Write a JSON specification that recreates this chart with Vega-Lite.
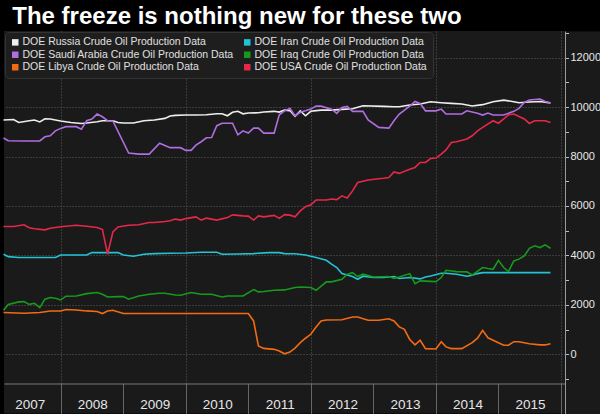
{
"$schema": "https://vega.github.io/schema/vega-lite/v6.json",
"width": 561, "height": 382.5,
"padding": {"left": 0, "top": 4, "right": 0, "bottom": 0},
"background": "#000000",
"title": {"text": "The freeze is nothing new for these two", "anchor": "start", "font": "Liberation Sans", "fontSize": 24, "fontWeight": "bold", "color": "#ffffff", "offset": -1.9, "dx": 12},
"data": {"values": [
{"s":"Russia","d":"2007-02","v":9480},{"s":"Russia","d":"2007-04","v":9500},{"s":"Russia","d":"2007-05","v":9380},{"s":"Russia","d":"2007-07","v":9450},{"s":"Russia","d":"2007-08","v":9480},{"s":"Russia","d":"2007-09","v":9400},{"s":"Russia","d":"2007-10","v":9530},{"s":"Russia","d":"2007-11","v":9520},{"s":"Russia","d":"2007-12","v":9480},{"s":"Russia","d":"2008-01","v":9440},{"s":"Russia","d":"2008-03","v":9380},{"s":"Russia","d":"2008-05","v":9340},{"s":"Russia","d":"2008-06","v":9355},{"s":"Russia","d":"2008-08","v":9410},{"s":"Russia","d":"2008-09","v":9450},{"s":"Russia","d":"2008-11","v":9450},{"s":"Russia","d":"2008-12","v":9380},{"s":"Russia","d":"2009-01","v":9355},{"s":"Russia","d":"2009-03","v":9355},{"s":"Russia","d":"2009-05","v":9450},{"s":"Russia","d":"2009-07","v":9480},{"s":"Russia","d":"2009-09","v":9545},{"s":"Russia","d":"2009-10","v":9640},{"s":"Russia","d":"2009-11","v":9665},{"s":"Russia","d":"2010-01","v":9680},{"s":"Russia","d":"2010-03","v":9680},{"s":"Russia","d":"2010-05","v":9690},{"s":"Russia","d":"2010-07","v":9730},{"s":"Russia","d":"2010-08","v":9730},{"s":"Russia","d":"2010-09","v":9650},{"s":"Russia","d":"2010-10","v":9790},{"s":"Russia","d":"2010-11","v":9830},{"s":"Russia","d":"2010-12","v":9730},{"s":"Russia","d":"2011-01","v":9760},{"s":"Russia","d":"2011-03","v":9770},{"s":"Russia","d":"2011-04","v":9800},{"s":"Russia","d":"2011-06","v":9830},{"s":"Russia","d":"2011-07","v":9800},{"s":"Russia","d":"2011-08","v":9880},{"s":"Russia","d":"2011-09","v":9860},{"s":"Russia","d":"2011-10","v":9625},{"s":"Russia","d":"2011-11","v":9850},{"s":"Russia","d":"2011-12","v":9650},{"s":"Russia","d":"2012-01","v":9830},{"s":"Russia","d":"2012-02","v":9860},{"s":"Russia","d":"2012-03","v":9880},{"s":"Russia","d":"2012-05","v":9880},{"s":"Russia","d":"2012-07","v":9910},{"s":"Russia","d":"2012-09","v":9935},{"s":"Russia","d":"2012-11","v":10055},{"s":"Russia","d":"2013-03","v":10030},{"s":"Russia","d":"2013-05","v":10015},{"s":"Russia","d":"2013-06","v":10015},{"s":"Russia","d":"2013-08","v":10085},{"s":"Russia","d":"2013-10","v":10125},{"s":"Russia","d":"2013-12","v":10220},{"s":"Russia","d":"2014-02","v":10180},{"s":"Russia","d":"2014-04","v":10150},{"s":"Russia","d":"2014-06","v":10125},{"s":"Russia","d":"2014-08","v":10045},{"s":"Russia","d":"2014-10","v":10100},{"s":"Russia","d":"2014-12","v":10220},{"s":"Russia","d":"2015-02","v":10285},{"s":"Russia","d":"2015-04","v":10220},{"s":"Russia","d":"2015-05","v":10180},{"s":"Russia","d":"2015-07","v":10205},{"s":"Russia","d":"2015-09","v":10230},{"s":"Russia","d":"2015-11","v":10165},
{"s":"Saudi Arabia","d":"2007-02","v":8750},{"s":"Saudi Arabia","d":"2007-03","v":8640},{"s":"Saudi Arabia","d":"2007-06","v":8630},{"s":"Saudi Arabia","d":"2007-09","v":8630},{"s":"Saudi Arabia","d":"2007-10","v":8800},{"s":"Saudi Arabia","d":"2007-11","v":8840},{"s":"Saudi Arabia","d":"2007-12","v":9040},{"s":"Saudi Arabia","d":"2008-01","v":9140},{"s":"Saudi Arabia","d":"2008-02","v":9210},{"s":"Saudi Arabia","d":"2008-04","v":9210},{"s":"Saudi Arabia","d":"2008-05","v":9110},{"s":"Saudi Arabia","d":"2008-06","v":9450},{"s":"Saudi Arabia","d":"2008-07","v":9520},{"s":"Saudi Arabia","d":"2008-08","v":9720},{"s":"Saudi Arabia","d":"2008-09","v":9610},{"s":"Saudi Arabia","d":"2008-10","v":9450},{"s":"Saudi Arabia","d":"2008-11","v":9440},{"s":"Saudi Arabia","d":"2009-02","v":8140},{"s":"Saudi Arabia","d":"2009-04","v":8100},{"s":"Saudi Arabia","d":"2009-06","v":8100},{"s":"Saudi Arabia","d":"2009-08","v":8540},{"s":"Saudi Arabia","d":"2009-10","v":8360},{"s":"Saudi Arabia","d":"2009-12","v":8360},{"s":"Saudi Arabia","d":"2010-01","v":8250},{"s":"Saudi Arabia","d":"2010-02","v":8250},{"s":"Saudi Arabia","d":"2010-03","v":8460},{"s":"Saudi Arabia","d":"2010-04","v":8600},{"s":"Saudi Arabia","d":"2010-05","v":8760},{"s":"Saudi Arabia","d":"2010-06","v":8770},{"s":"Saudi Arabia","d":"2010-07","v":9250},{"s":"Saudi Arabia","d":"2010-08","v":9350},{"s":"Saudi Arabia","d":"2010-10","v":9350},{"s":"Saudi Arabia","d":"2010-11","v":8880},{"s":"Saudi Arabia","d":"2010-12","v":9040},{"s":"Saudi Arabia","d":"2011-01","v":8950},{"s":"Saudi Arabia","d":"2011-02","v":9150},{"s":"Saudi Arabia","d":"2011-03","v":9150},{"s":"Saudi Arabia","d":"2011-04","v":8950},{"s":"Saudi Arabia","d":"2011-06","v":8950},{"s":"Saudi Arabia","d":"2011-07","v":9690},{"s":"Saudi Arabia","d":"2011-08","v":9850},{"s":"Saudi Arabia","d":"2011-09","v":9950},{"s":"Saudi Arabia","d":"2011-10","v":9650},{"s":"Saudi Arabia","d":"2011-11","v":9790},{"s":"Saudi Arabia","d":"2011-12","v":9850},{"s":"Saudi Arabia","d":"2012-01","v":9920},{"s":"Saudi Arabia","d":"2012-02","v":10040},{"s":"Saudi Arabia","d":"2012-03","v":10040},{"s":"Saudi Arabia","d":"2012-05","v":9920},{"s":"Saudi Arabia","d":"2012-06","v":9750},{"s":"Saudi Arabia","d":"2012-07","v":9990},{"s":"Saudi Arabia","d":"2012-08","v":10030},{"s":"Saudi Arabia","d":"2012-09","v":9830},{"s":"Saudi Arabia","d":"2012-11","v":9830},{"s":"Saudi Arabia","d":"2012-12","v":9480},{"s":"Saudi Arabia","d":"2013-02","v":9180},{"s":"Saudi Arabia","d":"2013-04","v":9150},{"s":"Saudi Arabia","d":"2013-05","v":9450},{"s":"Saudi Arabia","d":"2013-06","v":9720},{"s":"Saudi Arabia","d":"2013-08","v":10040},{"s":"Saudi Arabia","d":"2013-09","v":10230},{"s":"Saudi Arabia","d":"2013-10","v":10150},{"s":"Saudi Arabia","d":"2013-11","v":9850},{"s":"Saudi Arabia","d":"2014-01","v":9850},{"s":"Saudi Arabia","d":"2014-02","v":9920},{"s":"Saudi Arabia","d":"2014-03","v":9720},{"s":"Saudi Arabia","d":"2014-06","v":9720},{"s":"Saudi Arabia","d":"2014-07","v":9850},{"s":"Saudi Arabia","d":"2014-09","v":9750},{"s":"Saudi Arabia","d":"2014-10","v":9680},{"s":"Saudi Arabia","d":"2014-11","v":9760},{"s":"Saudi Arabia","d":"2014-12","v":9680},{"s":"Saudi Arabia","d":"2015-02","v":9680},{"s":"Saudi Arabia","d":"2015-04","v":9830},{"s":"Saudi Arabia","d":"2015-05","v":9950},{"s":"Saudi Arabia","d":"2015-06","v":10190},{"s":"Saudi Arabia","d":"2015-07","v":10290},{"s":"Saudi Arabia","d":"2015-09","v":10330},{"s":"Saudi Arabia","d":"2015-10","v":10230},{"s":"Saudi Arabia","d":"2015-11","v":10180},
{"s":"Libya","d":"2007-02","v":1690},{"s":"Libya","d":"2007-06","v":1660},{"s":"Libya","d":"2007-09","v":1690},{"s":"Libya","d":"2007-11","v":1750},{"s":"Libya","d":"2008-01","v":1750},{"s":"Libya","d":"2008-02","v":1810},{"s":"Libya","d":"2008-04","v":1795},{"s":"Libya","d":"2008-06","v":1755},{"s":"Libya","d":"2008-08","v":1730},{"s":"Libya","d":"2008-09","v":1650},{"s":"Libya","d":"2008-10","v":1755},{"s":"Libya","d":"2008-11","v":1780},{"s":"Libya","d":"2009-01","v":1650},{"s":"Libya","d":"2011-01","v":1650},{"s":"Libya","d":"2011-02","v":1350},{"s":"Libya","d":"2011-03","v":340},{"s":"Libya","d":"2011-04","v":240},{"s":"Libya","d":"2011-06","v":200},{"s":"Libya","d":"2011-07","v":130},{"s":"Libya","d":"2011-08","v":20},{"s":"Libya","d":"2011-09","v":90},{"s":"Libya","d":"2011-10","v":250},{"s":"Libya","d":"2011-11","v":470},{"s":"Libya","d":"2011-12","v":650},{"s":"Libya","d":"2012-01","v":810},{"s":"Libya","d":"2012-02","v":1100},{"s":"Libya","d":"2012-03","v":1350},{"s":"Libya","d":"2012-04","v":1390},{"s":"Libya","d":"2012-07","v":1400},{"s":"Libya","d":"2012-09","v":1510},{"s":"Libya","d":"2012-10","v":1510},{"s":"Libya","d":"2012-12","v":1380},{"s":"Libya","d":"2013-02","v":1380},{"s":"Libya","d":"2013-04","v":1440},{"s":"Libya","d":"2013-05","v":1350},{"s":"Libya","d":"2013-06","v":1110},{"s":"Libya","d":"2013-07","v":1010},{"s":"Libya","d":"2013-08","v":600},{"s":"Libya","d":"2013-09","v":380},{"s":"Libya","d":"2013-10","v":570},{"s":"Libya","d":"2013-11","v":230},{"s":"Libya","d":"2014-01","v":215},{"s":"Libya","d":"2014-02","v":510},{"s":"Libya","d":"2014-03","v":300},{"s":"Libya","d":"2014-04","v":230},{"s":"Libya","d":"2014-06","v":230},{"s":"Libya","d":"2014-08","v":470},{"s":"Libya","d":"2014-09","v":650},{"s":"Libya","d":"2014-10","v":970},{"s":"Libya","d":"2014-11","v":670},{"s":"Libya","d":"2015-01","v":470},{"s":"Libya","d":"2015-02","v":365},{"s":"Libya","d":"2015-03","v":365},{"s":"Libya","d":"2015-04","v":510},{"s":"Libya","d":"2015-05","v":510},{"s":"Libya","d":"2015-07","v":430},{"s":"Libya","d":"2015-09","v":380},{"s":"Libya","d":"2015-10","v":380},{"s":"Libya","d":"2015-11","v":430},
{"s":"Iran","d":"2007-02","v":4050},{"s":"Iran","d":"2007-03","v":3950},{"s":"Iran","d":"2007-05","v":3915},{"s":"Iran","d":"2007-12","v":3915},{"s":"Iran","d":"2008-01","v":4020},{"s":"Iran","d":"2008-06","v":4020},{"s":"Iran","d":"2008-07","v":4115},{"s":"Iran","d":"2008-12","v":4115},{"s":"Iran","d":"2009-01","v":4020},{"s":"Iran","d":"2009-03","v":3970},{"s":"Iran","d":"2009-05","v":4050},{"s":"Iran","d":"2009-07","v":4075},{"s":"Iran","d":"2009-10","v":4090},{"s":"Iran","d":"2010-01","v":4100},{"s":"Iran","d":"2010-04","v":4130},{"s":"Iran","d":"2010-07","v":4130},{"s":"Iran","d":"2010-08","v":4050},{"s":"Iran","d":"2010-11","v":4060},{"s":"Iran","d":"2011-02","v":4075},{"s":"Iran","d":"2011-05","v":4115},{"s":"Iran","d":"2011-07","v":4115},{"s":"Iran","d":"2011-08","v":4075},{"s":"Iran","d":"2011-10","v":4070},{"s":"Iran","d":"2011-12","v":4020},{"s":"Iran","d":"2012-02","v":3915},{"s":"Iran","d":"2012-04","v":3805},{"s":"Iran","d":"2012-05","v":3645},{"s":"Iran","d":"2012-06","v":3510},{"s":"Iran","d":"2012-07","v":3265},{"s":"Iran","d":"2012-09","v":3145},{"s":"Iran","d":"2012-10","v":3035},{"s":"Iran","d":"2012-11","v":3160},{"s":"Iran","d":"2013-01","v":3105},{"s":"Iran","d":"2013-03","v":3105},{"s":"Iran","d":"2013-05","v":3145},{"s":"Iran","d":"2013-06","v":3065},{"s":"Iran","d":"2013-08","v":3105},{"s":"Iran","d":"2013-10","v":3050},{"s":"Iran","d":"2013-11","v":3130},{"s":"Iran","d":"2013-12","v":3170},{"s":"Iran","d":"2014-02","v":3280},{"s":"Iran","d":"2014-03","v":3280},{"s":"Iran","d":"2014-05","v":3240},{"s":"Iran","d":"2014-07","v":3160},{"s":"Iran","d":"2014-08","v":3200},{"s":"Iran","d":"2014-09","v":3265},{"s":"Iran","d":"2014-10","v":3305},{"s":"Iran","d":"2015-03","v":3305},{"s":"Iran","d":"2015-11","v":3305},
{"s":"Iraq","d":"2007-02","v":1780},{"s":"Iraq","d":"2007-03","v":2020},{"s":"Iraq","d":"2007-05","v":2120},{"s":"Iraq","d":"2007-06","v":2130},{"s":"Iraq","d":"2007-07","v":2020},{"s":"Iraq","d":"2007-08","v":2065},{"s":"Iraq","d":"2007-09","v":1890},{"s":"Iraq","d":"2007-10","v":2230},{"s":"Iraq","d":"2007-11","v":2295},{"s":"Iraq","d":"2007-12","v":2270},{"s":"Iraq","d":"2008-01","v":2200},{"s":"Iraq","d":"2008-02","v":2350},{"s":"Iraq","d":"2008-04","v":2360},{"s":"Iraq","d":"2008-06","v":2455},{"s":"Iraq","d":"2008-08","v":2500},{"s":"Iraq","d":"2008-09","v":2430},{"s":"Iraq","d":"2008-10","v":2320},{"s":"Iraq","d":"2008-12","v":2335},{"s":"Iraq","d":"2009-01","v":2335},{"s":"Iraq","d":"2009-02","v":2230},{"s":"Iraq","d":"2009-04","v":2360},{"s":"Iraq","d":"2009-06","v":2430},{"s":"Iraq","d":"2009-08","v":2470},{"s":"Iraq","d":"2009-09","v":2470},{"s":"Iraq","d":"2009-11","v":2400},{"s":"Iraq","d":"2009-12","v":2390},{"s":"Iraq","d":"2010-02","v":2500},{"s":"Iraq","d":"2010-04","v":2430},{"s":"Iraq","d":"2010-06","v":2430},{"s":"Iraq","d":"2010-08","v":2320},{"s":"Iraq","d":"2010-09","v":2360},{"s":"Iraq","d":"2010-12","v":2360},{"s":"Iraq","d":"2011-02","v":2620},{"s":"Iraq","d":"2011-03","v":2525},{"s":"Iraq","d":"2011-04","v":2540},{"s":"Iraq","d":"2011-06","v":2590},{"s":"Iraq","d":"2011-08","v":2605},{"s":"Iraq","d":"2011-10","v":2700},{"s":"Iraq","d":"2011-11","v":2725},{"s":"Iraq","d":"2012-01","v":2700},{"s":"Iraq","d":"2012-02","v":2590},{"s":"Iraq","d":"2012-04","v":2930},{"s":"Iraq","d":"2012-05","v":2930},{"s":"Iraq","d":"2012-07","v":3035},{"s":"Iraq","d":"2012-08","v":3240},{"s":"Iraq","d":"2012-09","v":3305},{"s":"Iraq","d":"2012-10","v":3145},{"s":"Iraq","d":"2012-11","v":3240},{"s":"Iraq","d":"2013-01","v":3130},{"s":"Iraq","d":"2013-04","v":3145},{"s":"Iraq","d":"2013-05","v":3075},{"s":"Iraq","d":"2013-06","v":3130},{"s":"Iraq","d":"2013-08","v":3265},{"s":"Iraq","d":"2013-09","v":2860},{"s":"Iraq","d":"2013-10","v":2970},{"s":"Iraq","d":"2014-01","v":2940},{"s":"Iraq","d":"2014-02","v":3105},{"s":"Iraq","d":"2014-03","v":3400},{"s":"Iraq","d":"2014-05","v":3345},{"s":"Iraq","d":"2014-07","v":3335},{"s":"Iraq","d":"2014-08","v":3210},{"s":"Iraq","d":"2014-10","v":3510},{"s":"Iraq","d":"2014-11","v":3470},{"s":"Iraq","d":"2014-12","v":3440},{"s":"Iraq","d":"2015-01","v":3800},{"s":"Iraq","d":"2015-02","v":3510},{"s":"Iraq","d":"2015-03","v":3350},{"s":"Iraq","d":"2015-04","v":3780},{"s":"Iraq","d":"2015-05","v":3850},{"s":"Iraq","d":"2015-06","v":3980},{"s":"Iraq","d":"2015-07","v":4290},{"s":"Iraq","d":"2015-08","v":4390},{"s":"Iraq","d":"2015-09","v":4320},{"s":"Iraq","d":"2015-10","v":4430},{"s":"Iraq","d":"2015-11","v":4290},
{"s":"USA","d":"2007-02","v":5170},{"s":"USA","d":"2007-04","v":5170},{"s":"USA","d":"2007-06","v":5240},{"s":"USA","d":"2007-07","v":5120},{"s":"USA","d":"2007-08","v":5080},{"s":"USA","d":"2007-10","v":5035},{"s":"USA","d":"2007-11","v":5100},{"s":"USA","d":"2008-01","v":5160},{"s":"USA","d":"2008-04","v":5220},{"s":"USA","d":"2008-06","v":5180},{"s":"USA","d":"2008-08","v":5130},{"s":"USA","d":"2008-09","v":5050},{"s":"USA","d":"2008-10","v":4050},{"s":"USA","d":"2008-11","v":4950},{"s":"USA","d":"2008-12","v":5150},{"s":"USA","d":"2009-02","v":5220},{"s":"USA","d":"2009-04","v":5240},{"s":"USA","d":"2009-06","v":5330},{"s":"USA","d":"2009-07","v":5330},{"s":"USA","d":"2009-09","v":5370},{"s":"USA","d":"2009-10","v":5400},{"s":"USA","d":"2009-11","v":5470},{"s":"USA","d":"2009-12","v":5430},{"s":"USA","d":"2010-01","v":5490},{"s":"USA","d":"2010-03","v":5560},{"s":"USA","d":"2010-04","v":5430},{"s":"USA","d":"2010-05","v":5510},{"s":"USA","d":"2010-07","v":5430},{"s":"USA","d":"2010-09","v":5530},{"s":"USA","d":"2010-10","v":5640},{"s":"USA","d":"2010-12","v":5600},{"s":"USA","d":"2011-01","v":5590},{"s":"USA","d":"2011-02","v":5430},{"s":"USA","d":"2011-03","v":5600},{"s":"USA","d":"2011-04","v":5560},{"s":"USA","d":"2011-06","v":5620},{"s":"USA","d":"2011-07","v":5500},{"s":"USA","d":"2011-08","v":5650},{"s":"USA","d":"2011-09","v":5630},{"s":"USA","d":"2011-10","v":5560},{"s":"USA","d":"2011-11","v":5800},{"s":"USA","d":"2011-12","v":5970},{"s":"USA","d":"2012-01","v":6050},{"s":"USA","d":"2012-02","v":6240},{"s":"USA","d":"2012-04","v":6240},{"s":"USA","d":"2012-05","v":6280},{"s":"USA","d":"2012-06","v":6260},{"s":"USA","d":"2012-07","v":6410},{"s":"USA","d":"2012-08","v":6320},{"s":"USA","d":"2012-09","v":6610},{"s":"USA","d":"2012-10","v":6950},{"s":"USA","d":"2012-12","v":7050},{"s":"USA","d":"2013-02","v":7100},{"s":"USA","d":"2013-03","v":7120},{"s":"USA","d":"2013-04","v":7150},{"s":"USA","d":"2013-05","v":7380},{"s":"USA","d":"2013-06","v":7320},{"s":"USA","d":"2013-08","v":7490},{"s":"USA","d":"2013-09","v":7560},{"s":"USA","d":"2013-10","v":7760},{"s":"USA","d":"2013-11","v":7760},{"s":"USA","d":"2013-12","v":7920},{"s":"USA","d":"2014-01","v":7940},{"s":"USA","d":"2014-02","v":8100},{"s":"USA","d":"2014-03","v":8270},{"s":"USA","d":"2014-04","v":8570},{"s":"USA","d":"2014-05","v":8600},{"s":"USA","d":"2014-07","v":8710},{"s":"USA","d":"2014-08","v":8840},{"s":"USA","d":"2014-09","v":9040},{"s":"USA","d":"2014-10","v":9180},{"s":"USA","d":"2014-12","v":9450},{"s":"USA","d":"2015-01","v":9350},{"s":"USA","d":"2015-02","v":9520},{"s":"USA","d":"2015-03","v":9690},{"s":"USA","d":"2015-04","v":9720},{"s":"USA","d":"2015-06","v":9520},{"s":"USA","d":"2015-07","v":9340},{"s":"USA","d":"2015-08","v":9450},{"s":"USA","d":"2015-10","v":9450},{"s":"USA","d":"2015-11","v":9380}
]},
"encoding": {
  "x": {"field": "d", "type": "temporal",
    "scale": {"domain": [{"year": 2007, "month": 2, "date": 4, "utc": true}, {"year": 2016, "month": 1, "date": 25, "utc": true}]},
    "axis": {"title": null, "orient": "bottom", "offset": -30,
      "values": [{"year": 2008, "month": 1, "date": 1, "utc": true}, {"year": 2009, "month": 1, "date": 1, "utc": true}, {"year": 2010, "month": 1, "date": 1, "utc": true}, {"year": 2011, "month": 1, "date": 1, "utc": true}, {"year": 2012, "month": 1, "date": 1, "utc": true}, {"year": 2013, "month": 1, "date": 1, "utc": true}, {"year": 2014, "month": 1, "date": 1, "utc": true}, {"year": 2015, "month": 1, "date": 1, "utc": true}, {"year": 2016, "month": 1, "date": 1, "utc": true}],
      "labelExpr": "utcFormat(datum.value, '%Y') - 1",
      "labelOffset": -31, "labelBaseline": "middle", "labelPadding": -9, "labelFlush": false, "labelOverlap": false, "labelBound": false,
      "labelFont": "Liberation Sans", "labelFontSize": 13.5, "labelColor": "#e6e6e6",
      "tickSize": 30, "tickColor": "#666666", "domainColor": "#7a7a7a",
      "grid": true, "gridDash": [1, 2], "gridColor": "#5c5c5c",
      "gridOpacity": {"condition": {"test": "utcyear(datum.value) % 2 == 0", "value": 1}, "value": 0}}
  }
},
"layer": [
  {"mark": {"type": "point", "opacity": 0},
   "encoding": {"y": {"field": "v", "type": "quantitative", "scale": {"domain": [-2395, 13080], "nice": false, "zero": false},
     "axis": {"orient": "right", "offset": 19, "domainWidth": 38, "domainColor": "#1a1a1a", "ticks": false, "labels": false, "grid": false, "title": null}}}},
  {"mark": {"type": "line", "strokeWidth": 1.6},
   "encoding": {
     "y": {"field": "v", "type": "quantitative", "scale": {"domain": [-2395, 13080], "nice": false, "zero": false},
       "axis": {"orient": "right", "title": null,
         "values": [-1000, 0, 1000, 2000, 3000, 4000, 5000, 6000, 7000, 8000, 9000, 10000, 11000, 12000, 13000],
         "format": "d",
         "labelExpr": "(datum.value % 2000 == 0 && datum.value >= 0) ? datum.label : ''",
         "labelFont": "Liberation Sans", "labelFontSize": 11, "labelColor": "#e8e8e8", "labelPadding": 1.5,
         "labelFlush": false, "labelOverlap": false, "labelBound": false,
         "tickSize": 3.5, "tickColor": "#bbbbbb", "domainColor": "#9a9a9a",
         "grid": true, "gridDash": [1, 2], "gridColor": "#5c5c5c",
         "gridOpacity": {"condition": {"test": "datum.value % 2000 == 0 && datum.value >= 0", "value": 1}, "value": 0}}},
     "color": {"field": "s", "type": "nominal",
       "scale": {"domain": ["Russia", "Saudi Arabia", "Libya", "Iran", "Iraq", "USA"], "range": ["#eeeeee", "#b06ee0", "#f26b12", "#22c4d4", "#169a1e", "#e62848"]},
       "legend": {"title": null, "orient": "top-left", "offset": 1, "columns": 2,
         "symbolType": "square", "symbolSize": 42, "symbolStrokeWidth": 0,
         "labelFont": "Liberation Sans", "labelFontSize": 10.5, "labelColor": "#e0e0e0", "labelLimit": 400, "labelOffset": 2,
         "labelExpr": "'DOE ' + datum.label + ' Crude Oil Production Data'",
         "fillColor": "#1e1e1e", "strokeColor": "#333333", "padding": 5, "cornerRadius": 4, "rowPadding": 1.5, "columnPadding": 8,
         "encode": {"symbols": {"update": {"fill": {"scale": "color", "field": "value"}, "stroke": {"value": "transparent"}}}}}}
   }}
],
"resolve": {"axis": {"y": "independent"}},
"config": {"view": {"fill": "#1a1a1a", "stroke": null}}
}
